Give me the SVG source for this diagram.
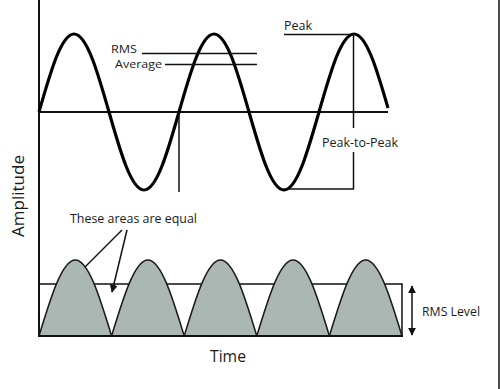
<svg xmlns="http://www.w3.org/2000/svg" width="500" height="389" viewBox="0 0 500 389">
<style>
text{font-family:"Open Sans","Liberation Sans",sans-serif;fill:#1a1a1a}
.thin{stroke:#111;stroke-width:1.5;fill:none}
.axis{stroke:#111;stroke-width:2;fill:none}
.wave{stroke:#000;stroke-width:3.2;fill:none;stroke-linejoin:round}
.hump{fill:#aab7b3;stroke:#1a1a1a;stroke-width:1.5}
</style>
<defs>
<marker id="ah" viewBox="0 0 10 10" refX="9" refY="5" markerWidth="8" markerHeight="8" markerUnits="userSpaceOnUse" orient="auto-start-reverse">
<path d="M0,0 L10,5 L0,10 z" fill="#111"/>
</marker>
</defs>
<rect width="500" height="389" fill="#fff"/>
<line x1="499" y1="0" x2="499" y2="389" stroke="#111" stroke-width="1.5"/>

<g id="top-chart">
<line class="axis" x1="39" y1="0" x2="39" y2="337"/>
<line class="axis" x1="39" y1="112" x2="388" y2="112"/>
<path class="wave" d="M39,112 C50.4,72 61.3,34 74,34 C86.7,34 97.6,72 109,112 C120.4,152 131.3,190 144,190 C156.7,190 167.6,152 179,112 C190.4,72 201.3,34 214,34 C226.7,34 237.6,72 249,112 C260.4,152 271.3,190 284,190 C296.7,190 307.6,152 319,112 C330.4,72 341.3,34 354,34 C366.7,34 377.6,72 388,108"/>
<line class="thin" x1="179" y1="112" x2="179" y2="192"/>
</g>

<g id="rms-label">
<text x="111" y="52.5" font-size="11.5" textLength="26" lengthAdjust="spacingAndGlyphs">RMS</text>
<line class="thin" x1="142" y1="53.5" x2="257" y2="53.5"/>
</g>
<g id="average-label">
<text x="115" y="67.5" font-size="11.5" textLength="47" lengthAdjust="spacingAndGlyphs">Average</text>
<line class="thin" x1="165" y1="64.5" x2="257" y2="64.5"/>
</g>
<g id="peak-label">
<text x="284" y="30" font-size="13" textLength="28" lengthAdjust="spacingAndGlyphs">Peak</text>
<line class="thin" x1="284" y1="34.5" x2="353.5" y2="34.5"/>
</g>
<g id="peak-to-peak-label">
<line class="thin" x1="353.5" y1="34" x2="353.5" y2="128"/>
<line class="thin" x1="353.5" y1="152" x2="353.5" y2="189"/>
<line class="thin" x1="284" y1="189" x2="354" y2="189"/>
<text x="322" y="147" font-size="13" textLength="76" lengthAdjust="spacingAndGlyphs">Peak-to-Peak</text>
</g>

<g id="bottom-chart">
<path class="thin" d="M39,284 H402 V336"/>
<path class="hump" d="M39,336 C50.8,297.1 62.2,260 75.3,260 C88.4,260 99.8,297.1 111.6,336 Z"/>
<path class="hump" d="M111.6,336 C123.4,297.1 134.8,260 147.9,260 C161,260 172.4,297.1 184.2,336 Z"/>
<path class="hump" d="M184.2,336 C196,297.1 207.4,260 220.5,260 C233.6,260 245,297.1 256.8,336 Z"/>
<path class="hump" d="M256.8,336 C268.6,297.1 280,260 293.1,260 C306.2,260 317.6,297.1 329.4,336 Z"/>
<path class="hump" d="M329.4,336 C341.2,297.1 352.6,260 365.7,260 C378.8,260 390.2,297.1 402,336 Z"/>
<line class="axis" x1="39" y1="336" x2="403" y2="336"/>
</g>

<g id="equal-areas-label">
<text x="70" y="223" font-size="13.5" textLength="127" lengthAdjust="spacingAndGlyphs">These areas are equal</text>
</g>

<g id="rms-level-label">
<text x="422" y="316" font-size="13" textLength="58" lengthAdjust="spacingAndGlyphs">RMS Level</text>
</g>

<g id="connectors">
<line class="thin" x1="122" y1="230" x2="85" y2="267"/>
<line class="thin" x1="127" y1="230" x2="112" y2="292" marker-end="url(#ah)"/>
<line class="thin" x1="412" y1="286" x2="412" y2="335" marker-start="url(#ah)" marker-end="url(#ah)"/>
</g>

<g id="axis-labels">
<text x="210" y="362" font-size="17" textLength="36" lengthAdjust="spacingAndGlyphs">Time</text>
<text transform="translate(24,237) rotate(-90)" font-size="17" textLength="82" lengthAdjust="spacingAndGlyphs">Amplitude</text>
</g>
</svg>
